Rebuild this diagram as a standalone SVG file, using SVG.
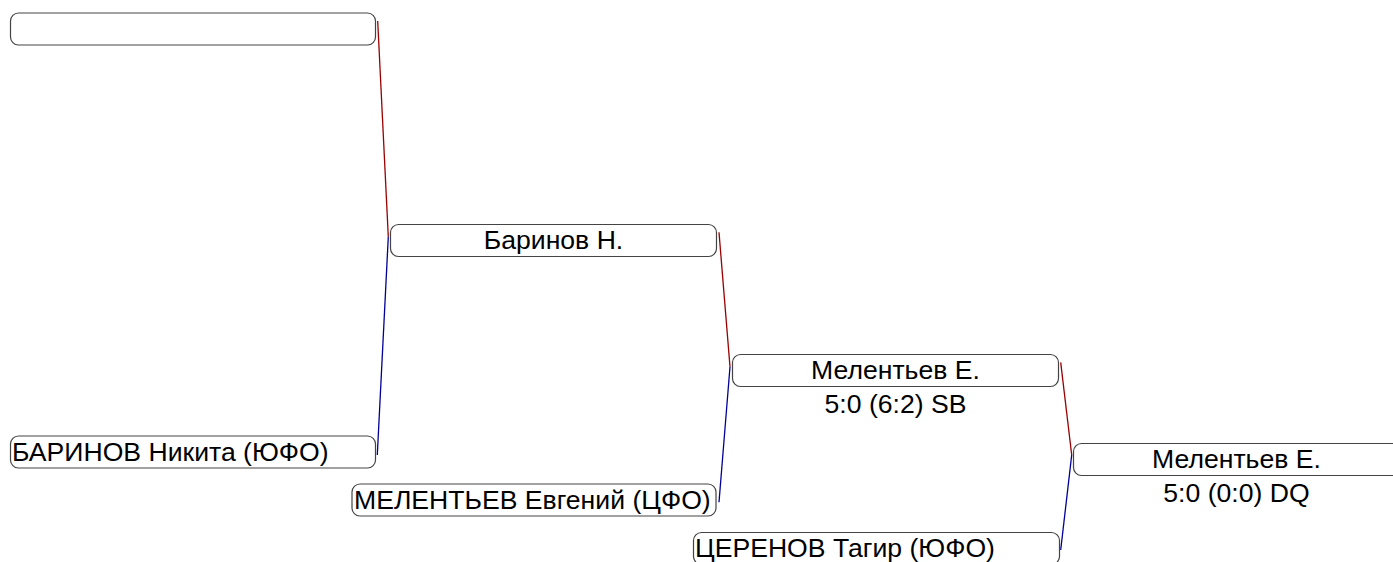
<svg xmlns="http://www.w3.org/2000/svg" width="1393" height="562" viewBox="0 0 1393 562">
<style>
.box{fill:#fff;stroke:#444;stroke-width:1.2}
.t{font-family:"Liberation Sans",Arial,sans-serif;font-size:26.6px;fill:#000}
.c{text-anchor:middle}
.red{stroke:#990000;stroke-width:1.3;fill:none}
.blue{stroke:#000099;stroke-width:1.3;fill:none}
</style>
<rect width="1393" height="562" fill="#fff"/>
<g id="connectors">
<line class="red" x1="377.7" y1="21" x2="388.3" y2="236.7"/>
<line class="blue" x1="388.3" y1="236.7" x2="377.3" y2="455"/>
<line class="red" x1="719" y1="232.3" x2="730" y2="366.7"/>
<line class="blue" x1="730" y1="366.7" x2="719" y2="502.3"/>
<line class="red" x1="1060.7" y1="362.3" x2="1071.7" y2="455"/>
<line class="blue" x1="1071.7" y1="455" x2="1060.7" y2="550"/>
</g>
<g id="n1"><rect class="box" x="10.5" y="13" width="365" height="32" rx="8"/></g>
<g id="n2"><rect class="box" x="10.5" y="436" width="365" height="32" rx="8"/><text class="t" x="12" y="461">БАРИНОВ Никита (ЮФО)</text></g>
<g id="n3"><rect class="box" x="352" y="484" width="364" height="32" rx="8"/><text class="t" x="354" y="509">МЕЛЕНТЬЕВ Евгений (ЦФО)</text></g>
<g id="n4"><rect class="box" x="390.5" y="224.5" width="326" height="32" rx="8"/><text class="t c" x="553.5" y="249">Баринов Н.</text></g>
<g id="n5"><rect class="box" x="732.5" y="354.5" width="326" height="32" rx="8"/><text class="t c" x="895.5" y="379">Мелентьев Е.</text><text class="t c" x="895.5" y="413">5:0 (6:2) SB</text></g>
<g id="n6"><rect class="box" x="693.5" y="532.5" width="366" height="32" rx="8"/><text class="t" x="695" y="557">ЦЕРЕНОВ Тагир (ЮФО)</text></g>
<g id="n7"><rect class="box" x="1073.5" y="443.5" width="366" height="32" rx="8"/><text class="t c" x="1236.5" y="468">Мелентьев Е.</text><text class="t c" x="1236.5" y="502">5:0 (0:0) DQ</text></g>
</svg>
